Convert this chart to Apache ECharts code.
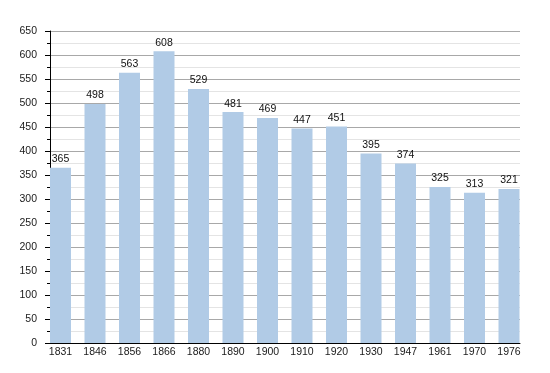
<!DOCTYPE html>
<html>
<head>
<meta charset="utf-8">
<script src="https://cdn.jsdelivr.net/npm/echarts@6/dist/echarts.min.js"></script>
<style>
html,body{margin:0;padding:0;background:#fff;}
#chart{width:550px;height:373px;}
</style>
</head>
<body>
<div id="chart"></div>
<script>
const years = ['1831','1846','1856','1866','1880','1890','1900','1910','1920','1930','1947','1961','1970','1976'];
const population = [365, 498, 563, 608, 529, 481, 469, 447, 451, 395, 374, 325, 313, 321];
const yMin = 0, yMax = 650, yStep = 50;

const chart = echarts.init(document.getElementById('chart'), null, {renderer: 'canvas'});
const font = 'Liberation Sans, Arial, sans-serif';
chart.setOption({
  animation: false,
  backgroundColor: '#ffffff',
  textStyle: {fontFamily: font},
  grid: [
    {left: 50, right: 30, top: 31, bottom: 30},
    {left: 60.5, right: 41, top: 31, bottom: 30}
  ],
  xAxis: [
    {
      type: 'category', gridIndex: 0, data: years,
      axisLine: {show: true, lineStyle: {color: '#000', width: 1}},
      axisTick: {show: false}, axisLabel: {show: false}, splitLine: {show: false}
    },
    {
      type: 'category', gridIndex: 1, data: years, boundaryGap: false,
      axisLine: {show: false}, axisTick: {show: false},
      axisLabel: {show: true, fontSize: 10.5, color: '#1a1a1a', margin: 4, fontFamily: font, interval: 0}
    }
  ],
  yAxis: [
    {
      type: 'value', gridIndex: 0, min: yMin, max: yMax, interval: yStep,
      axisLine: {show: true, lineStyle: {color: '#000', width: 1}},
      axisTick: {show: true, length: 5, lineStyle: {color: '#000'}},
      minorTick: {show: true, splitNumber: 2, length: 3, lineStyle: {color: '#000'}},
      axisLabel: {fontSize: 10.5, color: '#1a1a1a', margin: 13, fontFamily: font},
      splitLine: {show: true, lineStyle: {color: '#a8a8a8', width: 1}},
      minorSplitLine: {show: true, lineStyle: {color: '#e4e4e4', width: 1}}
    },
    {
      type: 'value', gridIndex: 1, min: yMin, max: yMax, show: false,
      splitLine: {show: false}
    }
  ],
  series: [{
    type: 'bar',
    xAxisIndex: 1, yAxisIndex: 1,
    data: population,
    barWidth: 21,
    itemStyle: {color: '#b1cbe6'},
    label: {show: true, position: 'top', distance: 3, fontSize: 10.5, color: '#111', fontFamily: font}
  }]
});
</script>
</body>
</html>
